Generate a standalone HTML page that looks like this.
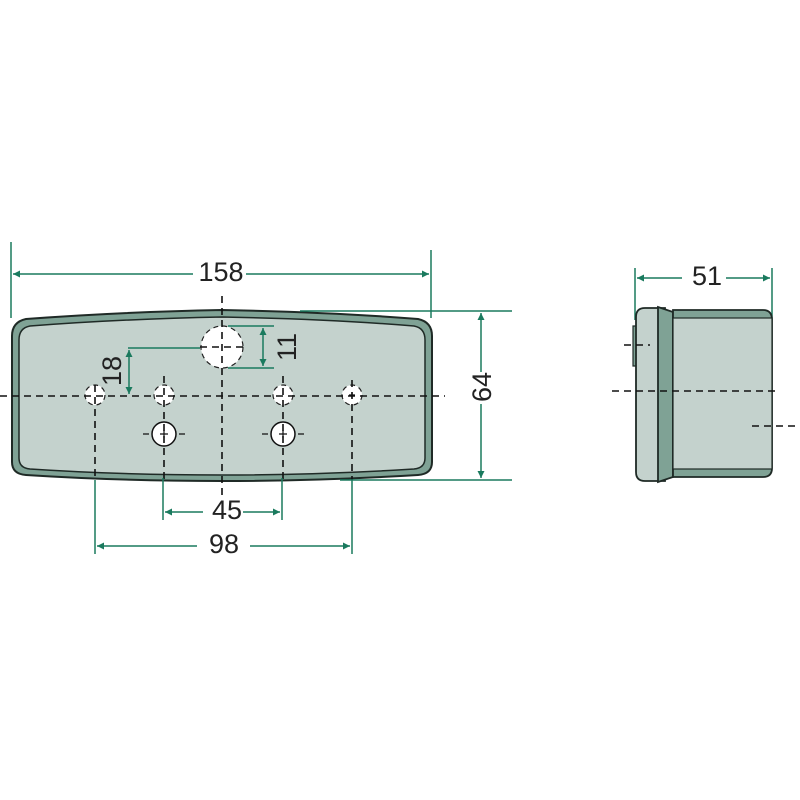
<!DOCTYPE html>
<html><head><meta charset="utf-8"><style>
html,body{margin:0;padding:0;background:#fff;}
svg{display:block}
text{font-family:"Liberation Sans",sans-serif;fill:#222;}
</style></head><body>
<svg width="800" height="800" viewBox="0 0 800 800" xmlns="http://www.w3.org/2000/svg">
<defs>
<marker id="a" viewBox="0 0 10 10" refX="10" refY="5" markerWidth="10" markerHeight="7" orient="auto-start-reverse" markerUnits="userSpaceOnUse"><path d="M0,0 L10,5 L0,10 z" fill="#1a7a5e"/></marker>
</defs>
<path d="M26,319 Q120,312 222,310 Q330,312 418,319 Q432,322 432,336 L432,462 Q432,474 418,475 Q320,481 222,481 Q120,481 26,475 Q12,474 12,462 L12,336 Q12,322 26,319 Z" fill="#7fa295" stroke="#1f2a26" stroke-width="2"/>
<path d="M30,326 Q120,319 222,317 Q330,319 414,326 Q425,328 425,340 L425,458 Q425,468 414,469 Q320,475 222,475 Q120,475 30,469 Q19,468 19,458 L19,340 Q19,328 30,326 Z" fill="#c4d2cd" stroke="#1f2a26" stroke-width="1.5"/>
<g fill="#fff" stroke="#222" stroke-width="1.2" stroke-dasharray="5,4">
<circle cx="222" cy="347" r="21"/>
<circle cx="95" cy="395" r="10"/>
<circle cx="164" cy="395" r="10"/>
<circle cx="283" cy="395" r="10"/>
<circle cx="352" cy="395" r="10"/>
</g>
<g fill="#fff" stroke="#111" stroke-width="1.5">
<circle cx="164" cy="434" r="12"/>
<circle cx="283" cy="434" r="12"/>
</g>
<g stroke="#111" stroke-width="1.2">
<path d="M160,434h8M164,430v8M279,434h8M283,430v8M349,395h6M352,392v6"/>
<path d="M143,434h6M179,434h6M262,434h6M298,434h6"/>
</g>
<g stroke="#111" stroke-width="1.6" stroke-dasharray="7,5" fill="none">
<line x1="0" y1="396" x2="445" y2="396"/>
<line x1="222" y1="296" x2="222" y2="500"/>
<line x1="95" y1="385" x2="95" y2="480"/>
<line x1="164" y1="376" x2="164" y2="480"/>
<line x1="283" y1="376" x2="283" y2="480"/>
<line x1="352" y1="380" x2="352" y2="480"/>
<line x1="200" y1="347" x2="245" y2="347"/>
</g>
<g stroke="#1a7a5e" stroke-width="1.5" fill="none">
<line x1="11" y1="242" x2="11" y2="318"/>
<line x1="431" y1="250" x2="431" y2="318"/>
<line x1="13" y1="274" x2="193" y2="274" marker-start="url(#a)"/>
<line x1="246" y1="274" x2="429" y2="274" marker-end="url(#a)"/>
<line x1="300" y1="311" x2="512" y2="311"/>
<line x1="340" y1="480" x2="512" y2="480"/>
<line x1="481" y1="313" x2="481" y2="372" marker-start="url(#a)"/>
<line x1="481" y1="404" x2="481" y2="478" marker-end="url(#a)"/>
<line x1="128" y1="348" x2="200" y2="348"/>
<line x1="129" y1="350" x2="129" y2="394" marker-start="url(#a)" marker-end="url(#a)"/>
<line x1="228" y1="326" x2="274" y2="326"/>
<line x1="228" y1="368" x2="274" y2="368"/>
<line x1="263" y1="328" x2="263" y2="366" marker-start="url(#a)" marker-end="url(#a)"/>
<line x1="95" y1="480" x2="95" y2="554"/>
<line x1="352" y1="480" x2="352" y2="554"/>
<line x1="163" y1="478" x2="163" y2="520"/>
<line x1="282" y1="478" x2="282" y2="520"/>
<line x1="165" y1="512" x2="203" y2="512" marker-start="url(#a)"/>
<line x1="243" y1="512" x2="280" y2="512" marker-end="url(#a)"/>
<line x1="97" y1="546" x2="197" y2="546" marker-start="url(#a)"/>
<line x1="250" y1="546" x2="350" y2="546" marker-end="url(#a)"/>
<line x1="635" y1="268" x2="635" y2="320"/>
<line x1="772" y1="268" x2="772" y2="320"/>
<line x1="637" y1="278" x2="682" y2="278" marker-start="url(#a)"/>
<line x1="726" y1="278" x2="770" y2="278" marker-end="url(#a)"/>
</g>
<text x="221" y="281" font-size="27" text-anchor="middle">158</text>
<text x="227" y="519" font-size="27" text-anchor="middle">45</text>
<text x="224" y="553" font-size="27" text-anchor="middle">98</text>
<text x="707" y="285" font-size="27" text-anchor="middle">51</text>
<text transform="translate(121,371) rotate(-90)" font-size="27" text-anchor="middle">18</text>
<text transform="translate(296,347) rotate(-90)" font-size="27" text-anchor="middle">11</text>
<text transform="translate(491,387) rotate(-90)" font-size="27" text-anchor="middle">64</text>
<path d="M633,326 h4 v40 h-4 z" fill="#7fa295" stroke="#1f2a26" stroke-width="1.2"/>
<path d="M645,308 L665,308 L665,481 L645,481 Q636,481 636,472 L636,317 Q636,308 645,308 Z" fill="#c4d2cd" stroke="#1f2a26" stroke-width="1.8"/>
<path d="M658,307 L673,312 L673,477 L658,482 Z" fill="#7fa295" stroke="#1f2a26" stroke-width="1.8"/>
<path d="M673,310 L763,310 Q772,310 772,320 L772,468 Q772,477 763,477 L673,477 Z" fill="#7fa295" stroke="#1f2a26" stroke-width="1.8"/>
<rect x="673" y="318" width="99" height="151" fill="#c4d2cd" stroke="#1f2a26" stroke-width="1.2"/>
<g stroke="#111" stroke-width="1.6" stroke-dasharray="7,5"><line x1="612" y1="391" x2="780" y2="391"/><line x1="752" y1="426" x2="800" y2="426"/><line x1="624" y1="345" x2="650" y2="345"/></g>
</svg>
</body></html>
